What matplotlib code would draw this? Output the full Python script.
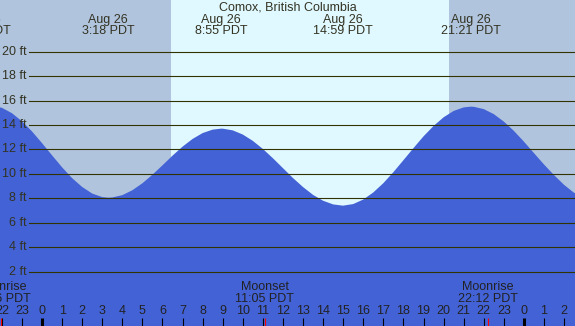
import matplotlib
matplotlib.use('Agg')
import matplotlib.pyplot as plt

# tide heights (ft) every half hour, hours relative to Aug 26 00:00 PDT
hours = [i / 2 for i in range(-5, 55)]
heights = [15.59, 15.41, 14.97, 14.31, 13.48, 12.52, 11.52, 10.54, 9.65, 8.93,
           8.39, 8.10, 8.07, 8.26, 8.66, 9.23, 9.93, 10.70, 11.49, 12.23,
           12.86, 13.34, 13.62, 13.70, 13.56, 13.22, 12.70, 12.04, 11.28, 10.47,
           9.66, 8.92, 8.28, 7.80, 7.50, 7.40, 7.53, 7.90, 8.48, 9.24,
           10.14, 11.12, 12.11, 13.07, 13.92, 14.63, 15.15, 15.44, 15.49, 15.30,
           14.89, 14.28, 13.52, 12.64, 11.70, 10.77, 9.90, 9.10, 8.45, 8.12]

# high / low tides: day offset, clock time, height
ext_day = [-1, 0, 0, 0, 0, 1]
ext_date = ["Aug 25", "Aug 26", "Aug 26", "Aug 26", "Aug 26", "Aug 27"]
ext_clock = ["20:57", "3:18", "8:55", "14:59", "21:21", "3:55"]
ext_height = [15.6, 8.05, 13.7, 7.4, 15.5, 8.0]

# moon events
moon_day = [-1, 0, 0]
moon_name = ["Moonrise", "Moonset", "Moonrise"]
moon_clock = ["21:56", "11:05", "22:12"]

sunrise, sunset = "6:25", "20:16"
y_ticks = [2, 4, 6, 8, 10, 12, 14, 16, 18, 20]
hour_ticks = list(range(-2, 27))
title = "Comox, British Columbia"

C_NIGHT = "#B0C4DE"
C_DAY = "#E0F8FF"
C_WATER = "#4262D6"
C_LINE = "#333300"
C_TEXT = "#333322"
W, H = 575, 326


def to_h(day, clock):
    hh, mm = clock.split(":")
    return day * 24 + int(hh) + int(mm) / 60.0


plt.rcParams['font.family'] = ['Liberation Sans', 'DejaVu Sans']
fig = plt.figure(figsize=(W / 100, H / 100), dpi=100)
ax = fig.add_axes([0, 0, 1, 1])
ax.axis('off')
x0, x1 = -42 / 20.08, (W - 42) / 20.08
y0, y1 = -2.45, 24.23
ax.set_xlim(x0, x1)
ax.set_ylim(y0, y1)

# day / night background
t_rise, t_set = to_h(0, sunrise), to_h(0, sunset)
ax.axvspan(x0, t_rise, color=C_NIGHT, lw=0, zorder=0)
ax.axvspan(t_rise, t_set, color=C_DAY, lw=0, zorder=0)
ax.axvspan(t_set, x1, color=C_NIGHT, lw=0, zorder=0)

# tide curve, half-hour readings plus the extremes
ext_t = [to_h(d, c) for d, c in zip(ext_day, ext_clock)]
pts = sorted(list(zip(hours, heights)) + list(zip(ext_t[1:-1], ext_height[1:-1])))
tt = [p[0] for p in pts]
hh = [p[1] for p in pts]
ax.fill_between(tt, y0, hh, color=C_WATER, lw=0, zorder=1)

# grid lines and labels
for v in y_ticks:
    ax.axhline(v, xmin=29 / W, xmax=1, color=C_LINE, lw=0.8, zorder=2)
    ax.text(27 / W, v, "%d ft" % v, transform=ax.get_yaxis_transform(),
            ha='right', va='center', fontsize=9, color=C_TEXT)

ax.text(0.5, 1 - 7.5 / H, title, transform=ax.transAxes, ha='center',
        va='center', fontsize=9, color=C_TEXT)

xt = ax.get_xaxis_transform()
for t, d, c in zip(ext_t, ext_date, ext_clock):
    ax.text(t, 1 - 19.5 / H, d, transform=xt, ha='center', va='center',
            fontsize=9, color=C_TEXT)
    ax.text(t, 1 - 31.5 / H, c + " PDT", transform=xt, ha='center',
            va='center', fontsize=9, color=C_TEXT)

# hour axis at the bottom
tick_top = (H - 318) / H
for h in hour_ticks:
    ax.text(h, 1 - 311.5 / H, str(h % 24), transform=xt, ha='center',
            va='center', fontsize=9, color='#222222')
    ax.vlines(h, 0, tick_top, transform=xt, color='black',
              lw=2.2 if h % 24 == 0 else 0.8, zorder=3)

for d, n, c in zip(moon_day, moon_name, moon_clock):
    t = to_h(d, c)
    ax.text(t, 1 - 287.5 / H, n, transform=xt, ha='center', va='center',
            fontsize=9, color='#222222')
    ax.text(t, 1 - 299.5 / H, c + " PDT", transform=xt, ha='center',
            va='center', fontsize=9, color='#222222')
    ax.vlines(t, 0, tick_top, transform=xt, color='red', lw=0.8, zorder=3)

fig.savefig("out.png", dpi=100)
